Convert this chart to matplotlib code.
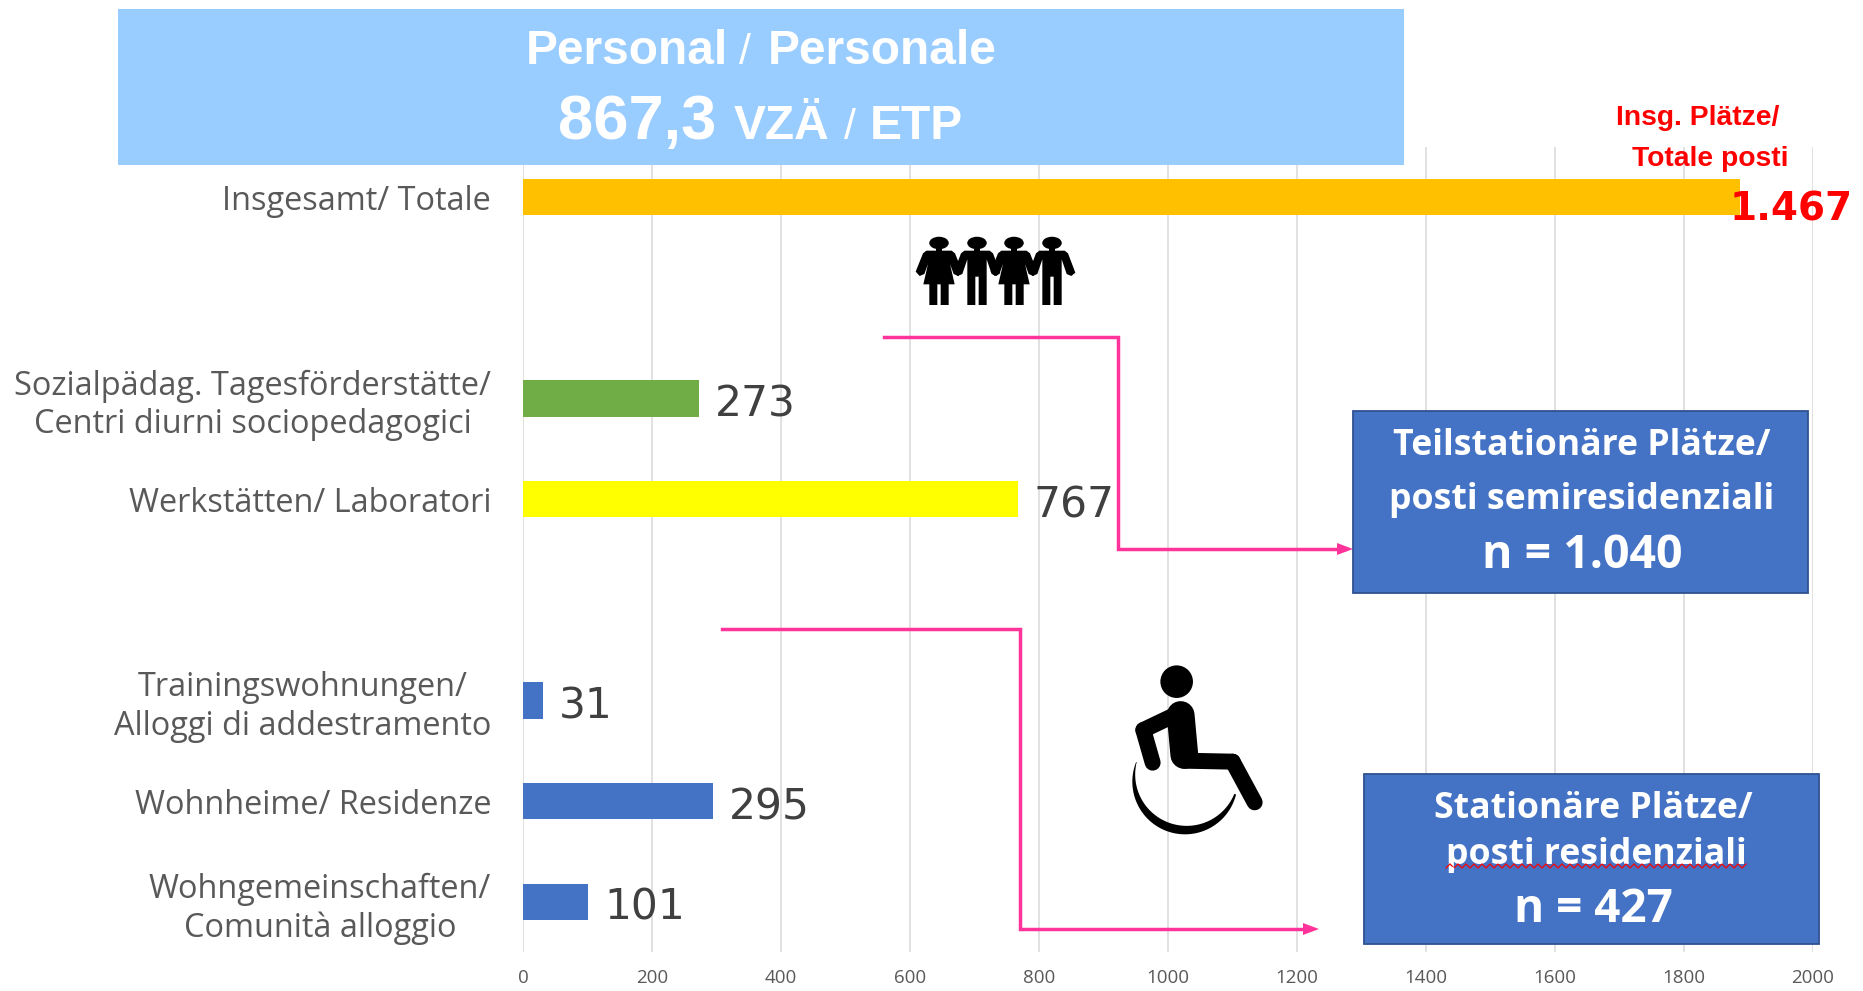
import numpy as np
import matplotlib
matplotlib.use('Agg')
import matplotlib.pyplot as plt
from matplotlib.patches import Rectangle, Ellipse, Circle, Polygon

W, H = 1863, 991

# Chart data, bottom to top. Empty strings are the spacer rows of the original.
categories = ['Wohngemeinschaften/\nComunità alloggio', 'Wohnheime/ Residenze',
              'Trainingswohnungen/\nAlloggi di addestramento', '',
              'Werkstätten/ Laboratori',
              'Sozialpädag. Tagesförderstätte/\nCentri diurni sociopedagogici',
              '', 'Insgesamt/ Totale']
values = [101, 295, 31, 0, 767, 273, 0, 1887]  # total bar is drawn to about 1887, labelled 1.467
value_labels = ['101', '295', '31', '', '767', '273', '', '']
bar_colors = ['#4472C4', '#4472C4', '#4472C4', 'none', '#FFFF00', '#70AD47', 'none', '#FFC000']
x_ticks = [0, 200, 400, 600, 800, 1000, 1200, 1400, 1600, 1800, 2000]
total_label = '1.467'

PINK = '#FF3399'
BOX_BLUE = '#4472C4'
SKY = '#99CCFF'

plt.rcParams['font.family'] = ['Open Sans', 'DejaVu Sans']

fig = plt.figure(figsize=(W / 100, H / 100), dpi=100, facecolor='white')

# Main axes
ax = fig.add_axes([523 / W, 1 - 952 / H, (1813 - 523) / W, (952 - 147) / H])
y_pos = np.arange(len(categories))
ax.barh(y_pos, values, height=0.36, color=bar_colors, zorder=3)
ax.set_xlim(0, 2000)
ax.set_ylim(-0.5, 7.5)
ax.set_xticks(x_ticks)
ax.set_yticks(y_pos)
ax.set_yticklabels(categories, fontsize=23.4, color='#595959', multialignment='center', linespacing=1.22)
ax.tick_params(axis='y', length=0, pad=23)
ax.tick_params(axis='x', length=0, pad=12, labelsize=13.5, labelcolor='#595959')
ax.grid(axis='x', color='#D9D9D9', linewidth=1.1, zorder=0)
for s in ax.spines.values():
    s.set_visible(False)

for y, v, lab in zip(y_pos, values, value_labels):
    if lab:
        ax.annotate(lab, (v, y), xytext=(11.5, -4.5), textcoords='offset points', va='center',
                    fontsize=30.5, color='#404040', family='DejaVu Sans', zorder=5)
ax.annotate(total_label, (values[-1], y_pos[-1]), xytext=(-7.5, -8.5), textcoords='offset points',
            va='center', fontsize=28, fontweight='bold', color='#FF0000', family='DejaVu Sans',
            annotation_clip=False, zorder=5)

# Overlay in pixel coordinates for the slide decorations
ov = fig.add_axes([0, 0, 1, 1], facecolor='none')
ov.set_xlim(0, W)
ov.set_ylim(H, 0)
ov.axis('off')

# Header
ov.add_patch(Rectangle((118, 9), 1404 - 118, 165 - 9, color=SKY, lw=0))
bold = dict(family='Liberation Sans', fontweight='bold', color='white', va='baseline')
thin = dict(family='Liberation Sans', color='white', va='baseline', ha='center')
ov.text(526, 64, 'Personal', fontsize=34.5, ha='left', **bold)
ov.text(745, 64, '/', fontsize=31, **thin)
ov.text(768, 64, 'Personale', fontsize=34.5, ha='left', **bold)
ov.text(558, 139, '867,3', fontsize=45.5, ha='left', **bold)
ov.text(734, 139, 'VZÄ', fontsize=34.5, ha='left', **bold)
ov.text(850, 139, '/', fontsize=31, **thin)
ov.text(870, 139, 'ETP', fontsize=34.5, ha='left', **bold)

# Red caption at the total bar
ov.text(1698, 125, 'Insg. Plätze/', fontsize=20.3, fontweight='bold', color='#FF0000',
        family='Liberation Sans', ha='center', va='baseline')
ov.text(1710, 166, 'Totale posti', fontsize=20.3, fontweight='bold', color='#FF0000',
        family='Liberation Sans', ha='center', va='baseline')

# Pink connectors
ov.plot([884, 1118, 1118, 1345], [337, 337, 549, 549], color=PINK, lw=2.5, solid_joinstyle='miter')
ov.plot([722, 1020, 1020, 1310], [629, 629, 929, 929], color=PINK, lw=2.5, solid_joinstyle='miter')
ov.add_patch(Polygon([[1353, 549], [1337, 543], [1337, 555]], color=PINK, lw=0))
ov.add_patch(Polygon([[1319, 929], [1303, 923], [1303, 935]], color=PINK, lw=0))

# Blue info boxes
ov.add_patch(Rectangle((1353, 411), 455, 182, fc=BOX_BLUE, ec='#2F528F', lw=1.3, zorder=4))
ov.add_patch(Rectangle((1364, 774), 455, 170, fc=BOX_BLUE, ec='#2F528F', lw=1.3, zorder=4))
boxtxt = dict(color='white', fontweight='bold', ha='center', va='center', zorder=5)
ov.text(1582, 446, 'Teilstationäre Plätze/', fontsize=25.7, **boxtxt)
ov.text(1582, 500, 'posti semiresidenziali', fontsize=25.7, **boxtxt)
ov.text(1582, 555, 'n = 1.040', fontsize=33.5, **boxtxt)
ov.text(1593, 809, 'Stationäre Plätze/', fontsize=25.7, **boxtxt)
ov.text(1596, 855, 'posti residenziali', fontsize=25.7, **boxtxt)
ov.text(1593, 909, 'n = 427', fontsize=33, **boxtxt)

# Spell-check squiggle under "residenziali"
sq_x = np.arange(1446, 1747, 4)
sq_y = 866 + 2 * (-1.0) ** np.arange(len(sq_x))
ov.plot(sq_x, sq_y, color='#FF0000', lw=0.9, zorder=6)
ov.add_patch(Circle((1452, 869), 2.2, color='white', lw=0, zorder=6))


# Holding-hands people icon
def person(cx, female):
    z = lambda pts: [(cx + px / 3, 220 + py / 3) for px, py in pts]
    ov.add_patch(Ellipse((cx, 243), 19.5, 12.5, color='black', lw=0, zorder=6))
    ov.add_patch(Polygon(z([(-8, 84), (8, 84), (8, 92), (-8, 92)]), color='black', lw=0, zorder=6))
    if female:
        body = [(-38, 92), (38, 92), (48, 100), (70, 155), (58, 168), (44, 162), (33, 132),
                (47, 193), (29, 193), (29, 255), (5, 255), (5, 193), (-5, 193), (-5, 255),
                (-29, 255), (-29, 193), (-47, 193), (-33, 132), (-44, 162), (-58, 168),
                (-70, 155), (-48, 100)]
    else:
        body = [(-38, 92), (38, 92), (48, 100), (70, 158), (58, 168), (44, 162), (29, 118),
                (29, 255), (5, 255), (5, 170), (-5, 170), (-5, 255), (-29, 255), (-29, 118),
                (-44, 162), (-58, 168), (-70, 158), (-48, 100)]
    ov.add_patch(Polygon(z(body), color='black', lw=0, zorder=6))


for cx, female in [(939, True), (977, False), (1014, True), (1052, False)]:
    person(cx, female)


# Wheelchair icon
def zz(px, py):
    return 1090 + px / 3, 650 + py / 3


def limb(pts, width):
    xs, ys = zip(*[zz(*p) for p in pts])
    ov.plot(xs, ys, color='black', lw=width, solid_capstyle='round', solid_joinstyle='round', zorder=6)


ov.add_patch(Circle(zz(260, 95), 16.3, color='black', lw=0, zorder=6))
limb([(272, 195), (283, 315)], 20)
limb([(283, 332), (428, 335)], 11.5)
limb([(428, 335), (494, 457)], 11.5)
limb([(265, 190), (160, 240)], 11.5)
limb([(160, 240), (188, 338)], 11.5)

# Wheel: crescent from the left tip round the bottom to the right tip
th = np.radians(np.linspace(202, 14, 80))
tk = 26 * np.sin(np.linspace(0.02, 0.93, 80) * np.pi)
pts = []
for t in th:
    pts.append(zz(285 + 158 * np.cos(t), 395 + 158 * np.sin(t)))
for t, d in zip(th[::-1], tk[::-1]):
    pts.append(zz(285 + (158 - d) * np.cos(t), 395 + (158 - d) * np.sin(t)))
ov.add_patch(Polygon(pts, color='black', lw=0, zorder=6))

plt.savefig('out.png', dpi=100)
